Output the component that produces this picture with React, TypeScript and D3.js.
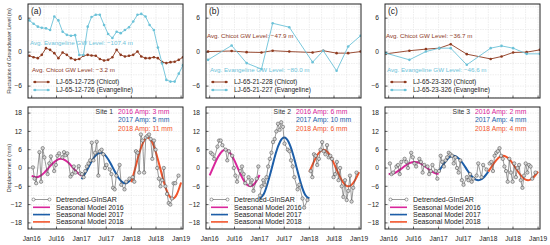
import React from 'react';
import * as d3 from 'd3';

// ---- groundwater wells (top row) ----
const panelTags = ['(a)', '(b)', '(c)'];
const chicotNames = ['LJ-65-12-725 (Chicot)', 'LJ-65-21-228 (Chicot)', 'LJ-65-23-320 (Chicot)'];
const evangNames = ['LJ-65-12-726 (Evangeline)', 'LJ-65-21-227 (Evangeline)', 'LJ-65-23-326 (Evangeline)'];
const chicotAvg = ['Avg. Chicot GW Level: \u22123.2 m', 'Avg. Chicot GW Level: \u221247.9 m', 'Avg. Chicot GW Level: \u221236.7 m'];
const evangAvg = ['Avg. Evangeline GW Level: \u2212107.4 m', 'Avg. Evangeline GW Level: \u221280.0 m', 'Avg. Evangeline GW Level: \u221246.6 m'];

const wellDatesA = [
  '2015-12-15', '2016-01-15', '2016-02-15', '2016-03-15', '2016-04-15', '2016-05-15', '2016-06-15', '2016-07-15',
  '2016-08-15', '2016-09-15', '2016-10-15', '2016-11-15', '2016-12-15', '2017-01-15', '2017-02-15', '2017-03-15',
  '2017-04-15', '2017-05-15', '2017-06-15', '2017-07-15', '2017-08-15', '2017-09-15', '2017-10-15', '2017-11-15',
  '2017-12-15', '2018-01-15', '2018-02-15', '2018-03-15', '2018-04-15', '2018-05-15', '2018-06-15', '2018-07-15',
  '2018-08-15', '2018-09-15', '2018-10-15', '2018-11-15', '2018-12-15', '2019-01-15'];
const chicotA = [-0.65, -0.9, -1.06, -0.48, 0.7, 0.4, -0.18, -1.06, -0.06, -0.48, -1.06, -1.36, -1.2, -0.65, -0.48, -0.6,
  -0.65, -1.2, -1.48, -1.36, -0.9, 0.4, -0.48, -0.77, -0.65, -0.48, 0.1, -0.77, -1.06, -1.06, -0.9, -1.06, -1.77, -1.94,
  -1.77, -1.7, -1.36, -0.9];
const evangA = [5.6, 5.0, 4.5, 4.3, 4.2, 3.9, 6.3, 5.6, 3.6, 3.05, 2.9, 3.0, -0.5, -0.5, 4.5, 6.2, 6.6, 6.6, 4.8, 3.2,
  2.5, 3.6, 3.35, 3.9, 4.4, 5.4, 6.6, 6.75, 6.3, 4.8, 3.9, 0.8, -2.0, -4.9, -5.2, -5.2, -3.8, -2.3];

const wellDatesB = ['2015-12-20', '2016-06-10', '2016-09-28', '2017-01-15', '2017-04-07', '2017-08-07', '2018-01-25',
  '2018-04-13', '2018-07-20', '2018-10-13', '2019-01-12'];
const chicotB = [0.1, 0.2, 0.0, -0.06, 0.25, 0.1, -0.06, 0.25, -0.18, -0.18, 0.1];
const evangB = [-1.36, 1.17, -1.94, -3.0, 5.1, 4.4, -1.77, 0.25, -3.3, 1.0, 2.9];

const wellDatesC = ['2015-12-12', '2016-06-01', '2016-09-30', '2017-01-06', '2017-03-31', '2017-07-27', '2018-01-18',
  '2018-04-08', '2018-07-02', '2018-10-09', '2019-01-14'];
const chicotC = [-0.3, 0.25, 0.53, 0.7, 1.4, -0.36, -1.2, -0.77, -0.06, 0.0, 0.4];
const evangC = [-0.18, -1.36, 0.1, 0.7, 0.7, -2.24, 0.7, 1.1, 0.7, -0.3, -0.3];

// ---- InSAR displacement (bottom row) ----
const siteNames = ['Site 1', 'Site 2', 'Site 3'];
const amp2016 = ['2016 Amp: 3 mm', '2016 Amp: 6 mm', '2016 Amp: 2 mm'];
const amp2017 = ['2017 Amp: 5 mm', '2017 Amp: 10 mm', '2017 Amp: 4 mm'];
const amp2018 = ['2018 Amp: 11 mm', '2018 Amp: 6 mm', '2018 Amp: 4 mm'];
const legendNames = ['Detrended-GInSAR', 'Seasonal Model 2016', 'Seasonal Model 2017', 'Seasonal Model 2018'];

const sarDates2016 = ['2016-01-10', '2016-01-22', '2016-02-03', '2016-02-27', '2016-03-10', '2016-03-22', '2016-04-03',
  '2016-04-27', '2016-05-09', '2016-05-21', '2016-06-14', '2016-06-26', '2016-07-08', '2016-07-20', '2016-08-13',
  '2016-08-25', '2016-09-06', '2016-09-18', '2016-10-12', '2016-10-24', '2016-11-05', '2016-11-17', '2016-12-11',
  '2016-12-23'];
const sarDates2017 = ['2017-01-04', '2017-01-16', '2017-01-28', '2017-02-09', '2017-02-21', '2017-03-05', '2017-03-17',
  '2017-03-29', '2017-04-10', '2017-04-22', '2017-05-04', '2017-05-16', '2017-05-28', '2017-06-09', '2017-06-21',
  '2017-07-03', '2017-07-27', '2017-08-08', '2017-08-20', '2017-09-01', '2017-09-13', '2017-10-07', '2017-10-19',
  '2017-11-12', '2017-11-24', '2017-12-18'];
const sarDates2018 = ['2018-01-11', '2018-01-23', '2018-02-04', '2018-02-16', '2018-02-28', '2018-03-12', '2018-03-24',
  '2018-04-05', '2018-04-17', '2018-04-29', '2018-05-11', '2018-05-23', '2018-06-04', '2018-06-16', '2018-06-28',
  '2018-07-10', '2018-07-22', '2018-08-03', '2018-08-15', '2018-08-27', '2018-09-08', '2018-09-20', '2018-10-02',
  '2018-10-14', '2018-10-26', '2018-11-07', '2018-11-19', '2018-12-13'];

const site1y2016 = [0.2, -3.5, -5.0, 5.2, -4.5, 6.5, 3.5, -2.0, 1.5, 3.8, -1.0, 1.0, 4.0, 4.8, 3.5, 5.2, 4.2, 4.8, -2.8, -2.0, 0.5, -1.5, 0.6, -1.8];
const site1y2017 = [-2.0, -3.0, -1.0, 0.5, 1.5, 2.5, 8.3, 2.5, 5.0, 8.6, -2.5, 5.5, 6.0, 4.5, 0.0, 1.0, -0.5, -2.0, -6.5, -7.0, -2.5, 1.0, -5.5, -7.0, -4.5, -3.5];
const site1y2018 = [-3.0, -4.5, 5.5, 5.0, -1.5, 11.0, 9.0, -1.5, 10.0, 10.5, 11.0, 9.5, 3.0, 9.0, 6.0, 0.0, -3.5, -6.0, -4.0, 0.0, -6.0, -8.5, -11.5, -12.0, -10.0, -5.0, -5.0, -2.5];
const site2y2016 = [5.0, 4.5, 3.0, 7.0, 9.0, 9.0, 7.5, 6.0, 2.5, 5.5, 4.0, 0.0, -2.5, -4.5, -1.0, 0.5, -2.0, -5.0, -3.0, -5.5, -4.0, -7.5, -3.5, 0.5];
const site2y2017 = [-9.0, -6.0, -4.0, -5.5, -3.0, 0.5, 3.0, 5.0, 8.5, 9.5, 12.0, 14.5, 12.5, 15.0, 13.5, 8.0, 6.0, 5.5, 2.5, 0.5, -3.0, -7.0, -5.5, -10.0, -13.0, -10.5];
const site2y2018 = [-1.0, -3.0, 4.5, 4.0, 1.0, 3.0, 6.0, 8.5, 5.5, 4.5, 7.5, 3.5, 4.0, 3.0, -3.0, -2.0, 2.0, -4.0, 0.0, -6.0, -9.5, -4.0, -10.5, -7.5, -2.5, -11.0, -6.5, -1.5];
const site3y2016 = [1.5, -2.0, -1.5, 0.5, 1.0, -2.0, 2.0, 3.0, 2.0, 0.0, 5.0, 3.5, 1.5, 0.5, 3.0, 2.0, -1.5, 1.0, 0.5, -2.0, -1.0, 1.0, -1.0, -3.5];
const site3y2017 = [-1.0, 4.0, 2.0, 0.5, 2.5, 3.5, 5.0, 4.5, 4.0, 1.5, 3.5, 0.0, -1.5, 2.5, -4.0, -5.5, -3.0, -4.0, -2.0, -4.5, -3.5, -2.5, 1.5, -3.0, 1.0, -0.5];
const site3y2018 = [1.5, 2.0, -1.0, 4.0, 5.0, 5.5, 6.5, 4.0, 3.0, 0.5, -1.0, -4.5, 3.0, -1.5, -4.5, 1.5, -3.0, 0.0, 1.0, -4.0, -6.5, -2.5, 1.5, -1.5, 1.0, 0.5, -3.5, -1.5];

// seasonal model read at the first of each month, Jan .. next Jan
const site1model2016 = [-2.6, -3.0, -2.66, -1.6, -0.1, 1.4, 2.5, 3.0, 2.6, 1.55, -0.05, -1.45, -2.57];
const site1model2017 = [-3.66, -1.42, 0.95, 3.35, 4.73, 4.9, 3.77, 1.55, -1.09, -3.35, -4.78, -4.89, -3.66];
const site1model2018 = [-4.7, 0.35, 5.0, 8.7, 10.0, 8.6, 5.0, -0.1, -5.2, -8.75, -10.0, -8.6, -4.75];
const site2model2016 = [-2.4, 0.75, 3.5, 5.5, 5.97, 4.8, 2.4, -0.7, -3.6, -5.5, -5.95, -4.8, -2.3];
const site2model2017 = [-10.0, -8.5, -5.0, 0.0, 5.0, 8.7, 10.0, 8.6, 4.85, -0.1, -5.2, -8.75, -10.0];
const site2model2018 = [-1.3, 1.85, 4.3, 5.8, 5.77, 4.14, 1.45, -1.7, -4.4, -5.84, -5.74, -4.1, -1.35];
const site3model2016 = [-1.99, -1.85, -1.26, -0.3, 0.72, 1.57, 1.98, 1.86, 1.23, 0.28, -0.76, -1.58, -1.98];
const site3model2017 = [-1.2, 0.9, 2.6, 3.78, 3.94, 3.0, 1.3, -0.8, -2.68, -3.8, -3.9, -2.97, -1.2];
const site3model2018 = [-1.2, 0.9, 2.6, 3.78, 3.94, 3.0, 1.3, -0.8, -2.68, -3.8, -3.9, -2.97, -1.2];

const xTickLabels = ['Jan16', 'Jul16', 'Jan17', 'Jul17', 'Jan18', 'Jul18', 'Jan19'];
const wellTicks = [-6, 0, 6];
const sarTicks = [-18, -12, -6, 0, 6, 12, 18];

const colChicot = '#8e3a1f';
const colEvang = '#6cc2d8';
const yearColors = ['#d9269b', '#1d5ea8', '#f2552c'];
const font = '"Liberation Sans", Arial, Helvetica, sans-serif';

const parse = d3.timeParse('%Y-%m-%d');
const fmtTick = v => (v < 0 ? '\u2212' + Math.abs(v) : String(v));

const wells = [
  {dates: wellDatesA, chicot: chicotA, evang: evangA},
  {dates: wellDatesB, chicot: chicotB, evang: evangB},
  {dates: wellDatesC, chicot: chicotC, evang: evangC},
];
const sarDates = [sarDates2016, sarDates2017, sarDates2018];
const sites = [
  {obs: [site1y2016, site1y2017, site1y2018], model: [site1model2016, site1model2017, site1model2018]},
  {obs: [site2y2016, site2y2017, site2y2018], model: [site2model2016, site2model2017, site2model2018]},
  {obs: [site3y2016, site3y2017, site3y2018], model: [site3model2016, site3model2017, site3model2018]},
];

const panelLeft = [28, 206, 385];
const panelW = 155;
const top = {y0: 4, y1: 98};
const bot = {y0: 107, y1: 229};

const Frame = ({x, y, w, h}) => (
  <rect x={x} y={y} width={w} height={h} fill="none" stroke="#222" strokeWidth={1} />
);

const Panel = ({i}) => {
  const left = panelLeft[i];
  const x = d3.scaleTime()
    .domain([new Date(2015, 11, 5), new Date(2019, 0, 15)])
    .range([left, left + panelW]);
  const yTop = d3.scaleLinear().domain([-8.1, 8.5]).range([top.y1, top.y0]);
  const yBot = d3.scaleLinear().domain([-20, 20]).range([bot.y1, bot.y0]);

  const gridMonths = d3.timeMonth.every(3).range(new Date(2016, 0, 1), new Date(2019, 0, 2));
  const labelMonths = d3.timeMonth.every(6).range(new Date(2016, 0, 1), new Date(2019, 0, 2));

  const w = wells[i];
  const wellLine = d3.line<[Date, number]>().x(d => x(d[0])).y(d => yTop(d[1]));
  const chicotPts = w.dates.map((d, k) => [parse(d), w.chicot[k]] as [Date, number]);
  const evangPts = w.dates.map((d, k) => [parse(d), w.evang[k]] as [Date, number]);

  const s = sites[i];
  const sarLine = d3.line<[Date, number]>().x(d => x(d[0])).y(d => yBot(d[1]));
  const modelLine = d3.line<[Date, number]>().x(d => x(d[0])).y(d => yBot(d[1])).curve(d3.curveNatural);

  const clipTop = `clipTop${i}`;
  const clipBot = `clipBot${i}`;

  return (
    <g fontFamily={font}>
      <defs>
        <clipPath id={clipTop}><rect x={left} y={top.y0} width={panelW} height={top.y1 - top.y0} /></clipPath>
        <clipPath id={clipBot}><rect x={left} y={bot.y0} width={panelW} height={bot.y1 - bot.y0} /></clipPath>
      </defs>

      {/* grids */}
      <g stroke="#e2e2e2" strokeWidth={0.6} strokeDasharray="1.5,1">
        {gridMonths.map((m, k) => <line key={'tv' + k} x1={x(m)} x2={x(m)} y1={top.y0} y2={top.y1} />)}
        {d3.range(-8, 9, 2).map(v => <line key={'th' + v} x1={left} x2={left + panelW} y1={yTop(v)} y2={yTop(v)} />)}
        {gridMonths.map((m, k) => <line key={'bv' + k} x1={x(m)} x2={x(m)} y1={bot.y0} y2={bot.y1} />)}
        {d3.range(-18, 19, 3).map(v => <line key={'bh' + v} x1={left} x2={left + panelW} y1={yBot(v)} y2={yBot(v)} />)}
      </g>

      {/* wells */}
      <g clipPath={`url(#${clipTop})`}>
        <path d={wellLine(chicotPts) || ''} fill="none" stroke={colChicot} strokeWidth={0.9} />
        {chicotPts.map((p, k) => <circle key={'c' + k} cx={x(p[0])} cy={yTop(p[1])} r={1.3} fill={colChicot} />)}
        <path d={wellLine(evangPts) || ''} fill="none" stroke={colEvang} strokeWidth={0.9} />
        {evangPts.map((p, k) => <circle key={'e' + k} cx={x(p[0])} cy={yTop(p[1])} r={1.3} fill={colEvang} />)}
      </g>
      <text x={left + 3} y={top.y0 + 10} fontSize={8.5} fill="#222">{panelTags[i]}</text>
      <text x={left + (i === 1 ? 4 : 2)} y={i === 0 ? 45 : 72} fontSize={6.2} fill={colEvang}>{evangAvg[i]}</text>
      <text x={left + (i === 0 ? 4 : 1)} y={i === 0 ? 72 : 38} fontSize={6.2} fill={colChicot}>{chicotAvg[i]}</text>
      {/* top legend */}
      <line x1={left + 5} x2={left + 22} y1={82} y2={82} stroke={colChicot} strokeWidth={0.9} />
      <circle cx={left + 7} cy={82} r={1.3} fill={colChicot} />
      <circle cx={left + 20} cy={82} r={1.3} fill={colChicot} />
      <text x={left + 28} y={84.3} fontSize={6.5} fill="#222">{chicotNames[i]}</text>
      <line x1={left + 5} x2={left + 22} y1={90} y2={90} stroke={colEvang} strokeWidth={0.9} />
      <circle cx={left + 7} cy={90} r={1.3} fill={colEvang} />
      <circle cx={left + 20} cy={90} r={1.3} fill={colEvang} />
      <text x={left + 28} y={92.3} fontSize={6.5} fill="#222">{evangNames[i]}</text>

      <Frame x={left} y={top.y0} w={panelW} h={top.y1 - top.y0} />
      {wellTicks.map(v => (
        <g key={'wt' + v}>
          <line x1={left} x2={left + 2.5} y1={yTop(v)} y2={yTop(v)} stroke="#222" strokeWidth={0.7} />
          <text x={left - 6} y={yTop(v) + 2.3} fontSize={6.6} textAnchor="end" fill="#222">{fmtTick(v)}</text>
        </g>
      ))}

      {/* InSAR */}
      <g clipPath={`url(#${clipBot})`}>
        {s.model.map((vals, yr) => {
          const pts = vals.map((v, k) => [new Date(2016 + yr, k, 1), v] as [Date, number]);
          return <path key={'m' + yr} d={modelLine(pts) || ''} fill="none" stroke={yearColors[yr]} strokeWidth={2} />;
        })}
        {s.obs.map((vals, yr) => {
          const pts = sarDates[yr].map((d, k) => [parse(d), vals[k]] as [Date, number]);
          return (
            <g key={'o' + yr}>
              <path d={sarLine(pts) || ''} fill="none" stroke="#555" strokeWidth={0.6} />
              {pts.map((p, k) => <circle key={k} cx={x(p[0])} cy={yBot(p[1])} r={1.7} fill="#d4d4d4" stroke="#444" strokeWidth={0.5} />)}
            </g>
          );
        })}
      </g>
      <text x={left + 85} y={bot.y0 + 7} fontSize={6.8} textAnchor="end" fill="#333">{siteNames[i]}</text>
      <text x={left + 90} y={bot.y0 + 7} fontSize={6.8} fill={yearColors[0]}>{amp2016[i]}</text>
      <text x={left + 90} y={bot.y0 + 15.3} fontSize={6.8} fill={yearColors[1]}>{amp2017[i]}</text>
      <text x={left + 90} y={bot.y0 + 23.6} fontSize={6.8} fill={yearColors[2]}>{amp2018[i]}</text>
      {/* bottom legend */}
      <line x1={left + 5} x2={left + 22} y1={199.5} y2={199.5} stroke="#555" strokeWidth={0.6} />
      <circle cx={left + 5.5} cy={199.5} r={1.5} fill="#fff" stroke="#444" strokeWidth={0.5} />
      <circle cx={left + 21.5} cy={199.5} r={1.5} fill="#fff" stroke="#444" strokeWidth={0.5} />
      <text x={left + 28} y={202.1} fontSize={7} fill="#222">{legendNames[0]}</text>
      {legendNames.slice(1).map((t, k) => (
        <g key={t}>
          <line x1={left + 5} x2={left + 22} y1={207.3 + k * 7.3} y2={207.3 + k * 7.3} stroke={yearColors[k]} strokeWidth={1.6} />
          <text x={left + 28} y={209.8 + k * 7.3} fontSize={7} fill="#222">{t}</text>
        </g>
      ))}

      <Frame x={left} y={bot.y0} w={panelW} h={bot.y1 - bot.y0} />
      {sarTicks.map(v => (
        <g key={'st' + v}>
          <line x1={left} x2={left + 2.5} y1={yBot(v)} y2={yBot(v)} stroke="#222" strokeWidth={0.7} />
          <text x={left - 6} y={yBot(v) + 2.3} fontSize={6.6} textAnchor="end" fill="#222">{fmtTick(v)}</text>
        </g>
      ))}
      {labelMonths.map((m, k) => (
        <g key={'xl' + k}>
          <line x1={x(m)} x2={x(m)} y1={bot.y1} y2={bot.y1 - 2.5} stroke="#222" strokeWidth={0.7} />
          <line x1={x(m)} x2={x(m)} y1={top.y1} y2={top.y1 - 2.5} stroke="#222" strokeWidth={0.7} />
          <text x={x(m)} y={240.5} fontSize={6.6} textAnchor="middle" fill="#222">{xTickLabels[k]}</text>
        </g>
      ))}
    </g>
  );
};

const App = () => (
  <div style={{position: 'absolute', left: 0, top: 0}}>
    <svg width={550} height={245} style={{display: 'block', background: '#fff'}}>
      <text transform="translate(11,51) rotate(-90)" textAnchor="middle" fontSize={5.2} fontFamily={font} fill="#333">
        Fluctuation of Groundwater Level (m)
      </text>
      <text transform="translate(11,168) rotate(-90)" textAnchor="middle" fontSize={5.6} fontFamily={font} fill="#333">
        Displacement (mm)
      </text>
      {[0, 1, 2].map(i => <Panel key={i} i={i} />)}
    </svg>
  </div>
);

export default App;
